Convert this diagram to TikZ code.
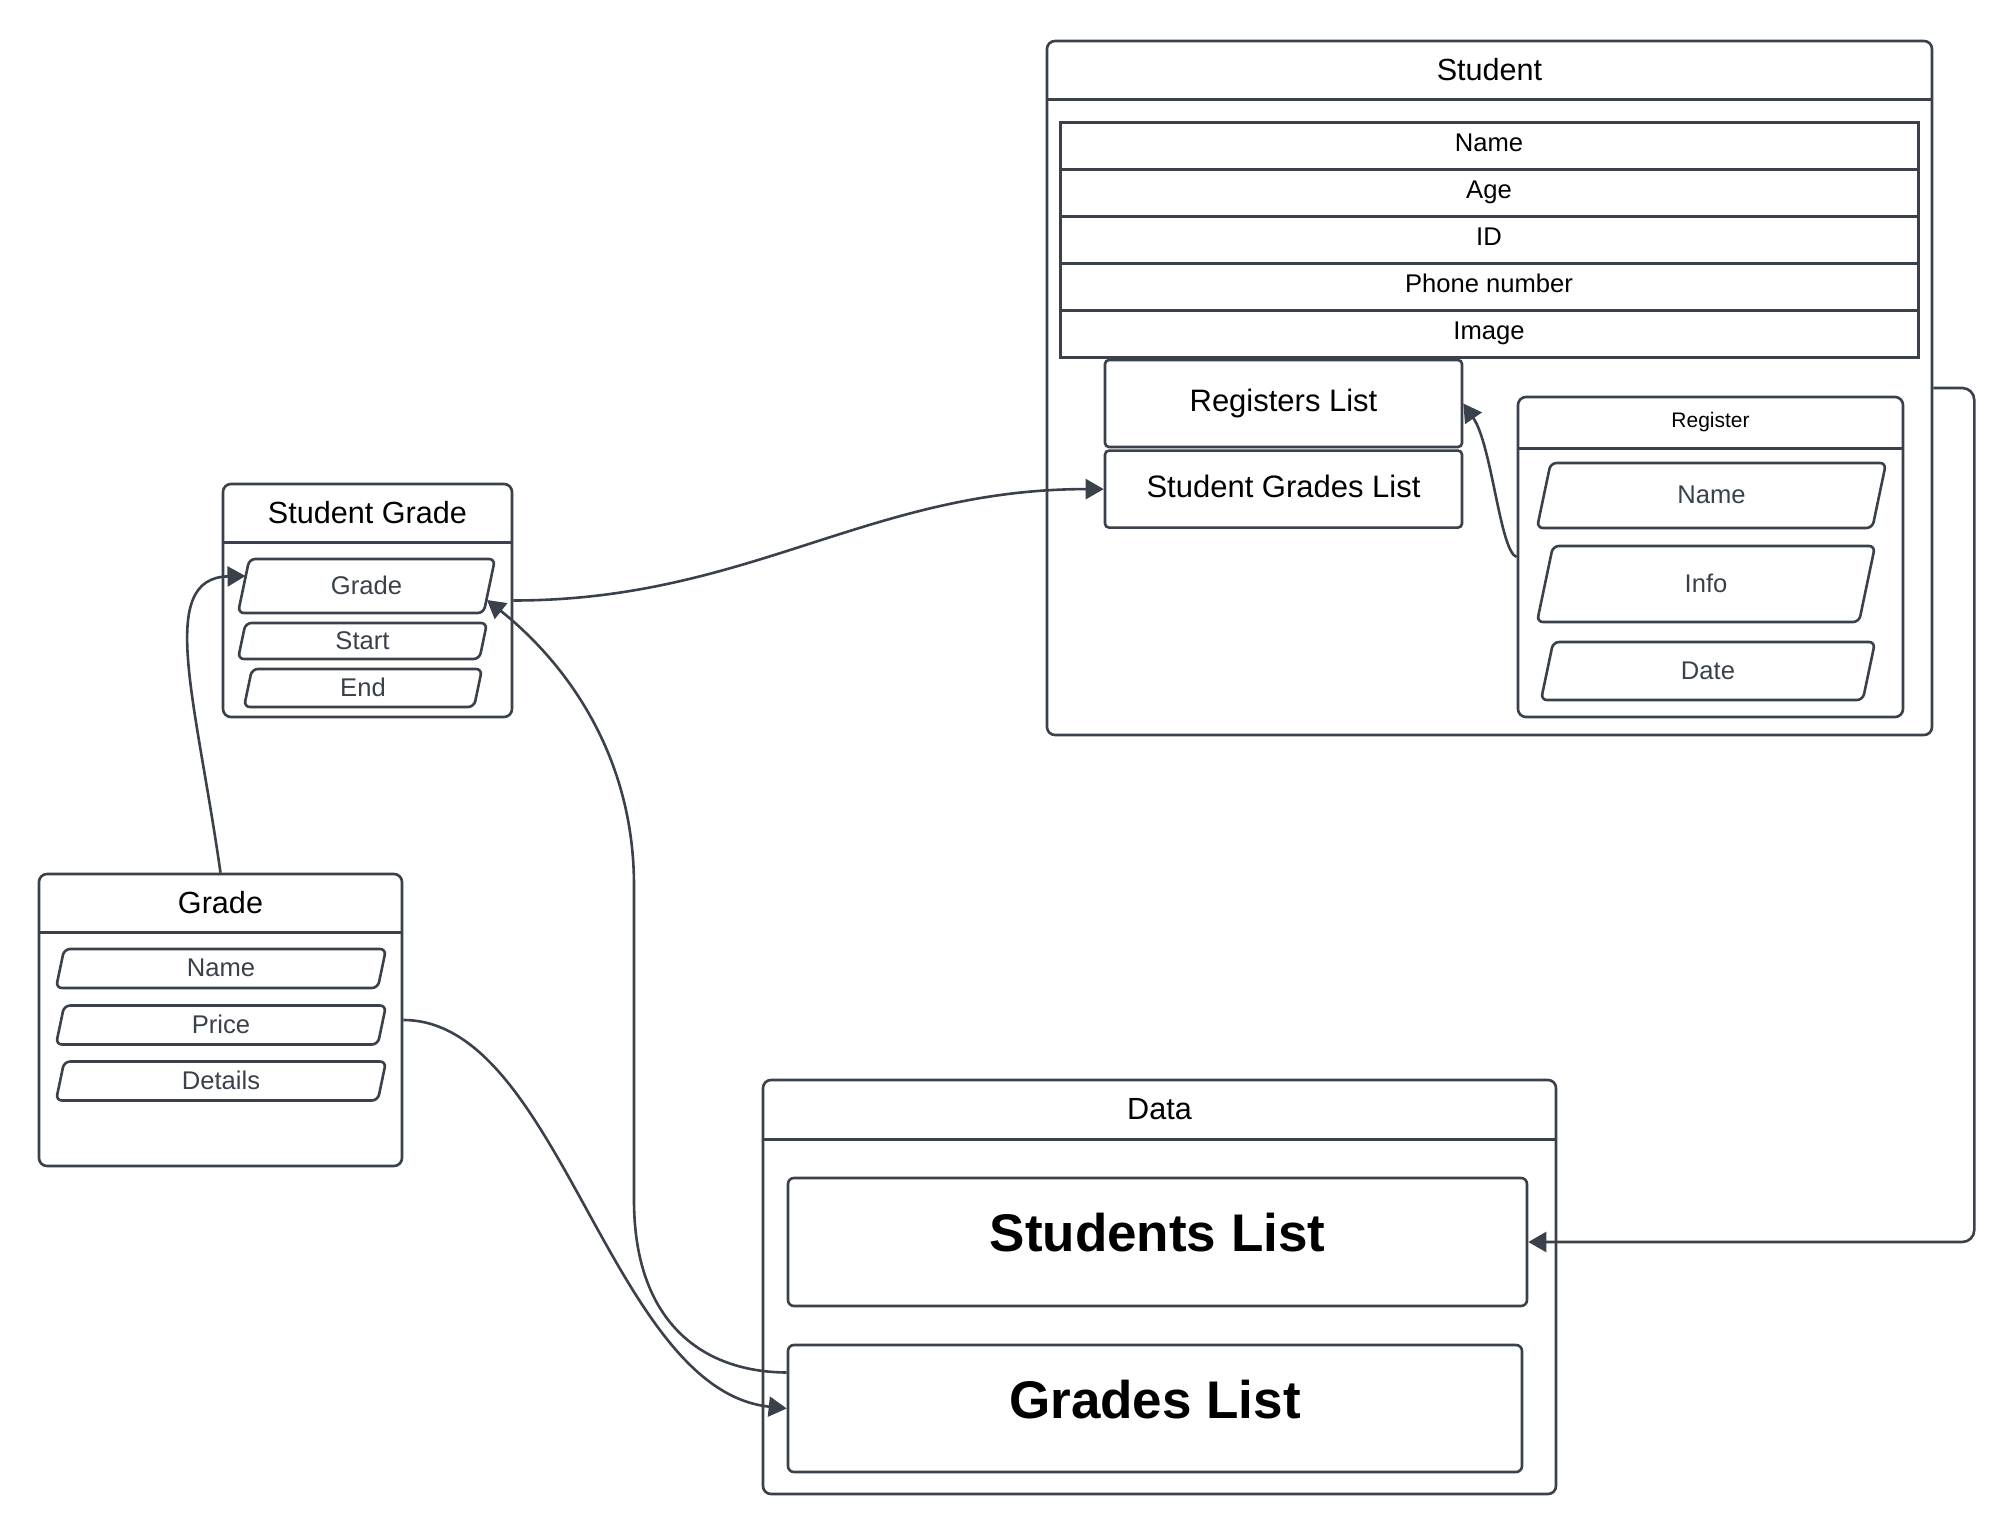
\documentclass[tikz,border=0pt]{standalone}
\usepackage{fontspec}
\setmainfont{Liberation Sans}
\usetikzlibrary{arrows.meta}
\usetikzlibrary{calc}
\usetikzlibrary{positioning}
\definecolor{linecol}{HTML}{3A414A}
\tikzset{>={Triangle[length=9pt,width=10pt]}}
\tikzset{
  box/.style={draw=linecol, line width=1.3pt, rounded corners=4pt},
  hline/.style={draw=linecol, line width=1.3pt},
  hdr/.style={font=\fontsize{15.3}{18}\selectfont},
  row/.style={draw=linecol, line width=1.5pt, minimum width=429pt, minimum height=23.5pt, outer sep=0pt,
    text height=9.2pt, text depth=4.5pt, font=\fontsize{12.8}{15}\selectfont},
  listbox/.style={draw=linecol, line width=1.3pt, rounded corners=2pt, minimum width=178.5pt,
    text height=11pt, text depth=3pt, font=\fontsize{15.5}{18}\selectfont},
  bigbox/.style={draw=linecol, line width=1.3pt, rounded corners=3pt, font=\bfseries\fontsize{26.5}{30}\selectfont, text depth=9.6pt},
  fld/.style={text=linecol, inner sep=0pt, outer sep=0pt, text height=9.2pt, text depth=0.8pt, font=\fontsize{12.8}{15}\selectfont},
  fldline/.style={draw=linecol, line width=1.3pt, rounded corners=3pt},
  conn/.style={draw=linecol, line width=1.3pt, ->},
}

\begin{document}
\begin{tikzpicture}[x=0.5pt, y=-0.5pt]
  \useasboundingbox (0,0) rectangle (2014,1534);

  % Student
  \node[box, minimum width=442.5pt, minimum height=347pt] (st) at (1489.5,388) {};
  \draw[hline] ($(st.north west)+(0,60)$) -- ($(st.north east)+(0,60)$);
  \node[hdr] (st-t) at ($(st.north)+(0,30)$) {Student};
  \node[row] (st-name) at (1489,146.5) {Name};
  \node[row, below=0pt of st-name] (st-age) {Age};
  \node[row, below=0pt of st-age] (st-id) {ID};
  \node[row, below=0pt of st-id] (st-phone) {Phone number};
  \node[row, below=0pt of st-phone] (st-image) {Image};
  \node[listbox, minimum height=43.5pt] (reglist) at (1283.5,403.5) {Registers List};
  \node[listbox, minimum height=38.5pt, below=0.5pt of reglist] (sglist) {Student Grades List};

  % Register
  \node[box, minimum width=192.5pt, minimum height=160pt] (reg) at (1710.5,557) {};
  \draw[hline] ($(reg.north west)+(0,53)$) -- ($(reg.north east)+(0,53)$);
  \node[font=\fontsize{10.5}{12}\selectfont] (reg-t) at ($(reg.north)+(0,26.5)$) {Register};
  \node[fld, minimum width=174.5pt, minimum height=32.5pt] (reg-name) at (1711.5,495.5) {Name};
  \node[fld, minimum width=169pt, minimum height=38pt] (reg-info) at (1706,584) {Info};
  \node[fld, minimum width=167pt, minimum height=29pt] (reg-date) at (1708,671) {Date};

  % Student Grade
  \node[box, minimum width=144.5pt, minimum height=116.5pt] (sg) at (367.5,600.5) {};
  \draw[hline] ($(sg.north west)+(0,60)$) -- ($(sg.north east)+(0,60)$);
  \node[hdr] (sg-t) at ($(sg.north)+(0,30)$) {Student Grade};
  \node[fld, minimum width=128.5pt, minimum height=27pt] (sg-grade) at (366.5,586) {Grade};
  \node[fld, minimum width=124.5pt, minimum height=18pt] (sg-start) at (362.5,641) {Start};
  \node[fld, minimum width=119pt, minimum height=19pt] (sg-end) at (363,688) {End};

  % Grade
  \node[box, minimum width=181.5pt, minimum height=146pt] (gr) at (220.5,1020) {};
  \draw[hline] ($(gr.north west)+(0,60)$) -- ($(gr.north east)+(0,60)$);
  \node[hdr] (gr-t) at ($(gr.north)+(0,30)$) {Grade};
  \node[fld, minimum width=165pt, minimum height=19.5pt] (gr-name) at (221,968.5) {Name};
  \node[fld, minimum width=165pt, minimum height=19.5pt] (gr-price) at (221,1025) {Price};
  \node[fld, minimum width=165pt, minimum height=19.5pt] (gr-details) at (221,1081) {Details};

  % Data
  \node[box, minimum width=396.5pt, minimum height=207pt] (data) at (1159.5,1287) {};
  \draw[hline] ($(data.north west)+(0,61)$) -- ($(data.north east)+(0,61)$);
  \node[hdr] (data-t) at ($(data.north)+(0,30.5)$) {Data};
  \node[bigbox, minimum width=369.5pt, minimum height=64pt] (stlist) at (1157.5,1242) {Students List};
  \node[bigbox, minimum width=367pt, minimum height=63.5pt] (grlist) at (1155,1408.5) {Grades List};

  % slanted field outlines
  \foreach \f in {reg-name,reg-info,reg-date,sg-grade,sg-start,sg-end,gr-name,gr-price,gr-details}
    \draw[fldline] (\f.south west) -- ($(\f.north west)!0.21!90:(\f.south west)$)
      -- (\f.north east) -- ($(\f.south east)!0.21!90:(\f.north east)$) -- cycle;

  % links
  \draw[conn] (gr.north) .. controls (196,700) and (156,578) .. ($(sg-grade.west)+(7.5,-10)$);
  \draw[conn] (sg.east) to[out=0,in=180] (sglist.west);
  \draw[conn] ([yshift=18pt]grlist.west) .. controls (700,1372) and (634,1320) .. (634,1200)
    -- (634,886) .. controls (634,740) and (550,650) .. ($(sg-grade.east)+(-8,14)$);
  \draw[conn] (gr.east) .. controls (560,1020) and (610,1390) .. (grlist.west);
  \draw[conn] (reg.west) .. controls (1500,552) and (1492,445) .. (reglist.east);
  \draw[conn, rounded corners=6pt] (st.east) -- ++(41,0) |- (stlist.east);
\end{tikzpicture}
\end{document}
